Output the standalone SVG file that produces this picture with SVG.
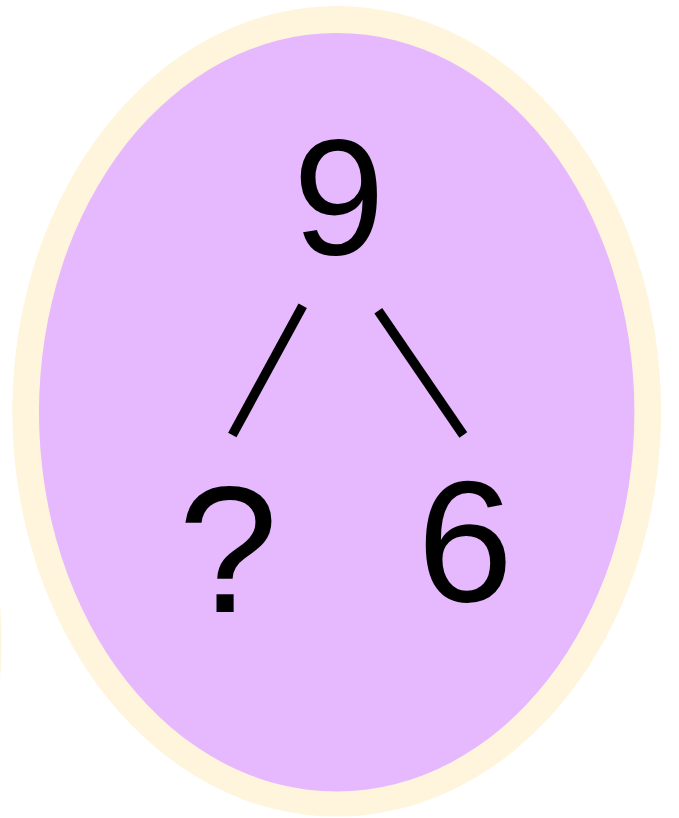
<svg xmlns="http://www.w3.org/2000/svg" width="679" height="818" viewBox="0 0 679 818">
<style>
.t{font-family:"Liberation Sans","DejaVu Sans",sans-serif;fill:#000;text-anchor:middle}
.e{stroke:#000;stroke-width:9.5;stroke-linecap:butt;fill:none}
</style>
<rect width="679" height="818" fill="#fff"/>
<ellipse cx="-323" cy="642" rx="324.5" ry="405" fill="#FEF5DC"/>
<g id="frame">
<ellipse cx="336.7" cy="411.3" rx="324.4" ry="405.3" fill="#FEF5DC"/>
<ellipse cx="336.7" cy="412.3" rx="297.7" ry="379.3" fill="#E6B8FD"/>
</g>
<g id="connectors">
<line class="e" x1="302.7" y1="305.7" x2="232.3" y2="435"/>
<line class="e" x1="378.3" y1="310.7" x2="463.3" y2="435"/>
</g>
<g id="n9"><text class="t" x="339" y="254" font-size="165">9</text></g>
<g id="nq"><text class="t" x="228" y="612" font-size="180">?</text></g>
<g id="n6"><text class="t" x="465" y="601" font-size="173">6</text></g>
</svg>
